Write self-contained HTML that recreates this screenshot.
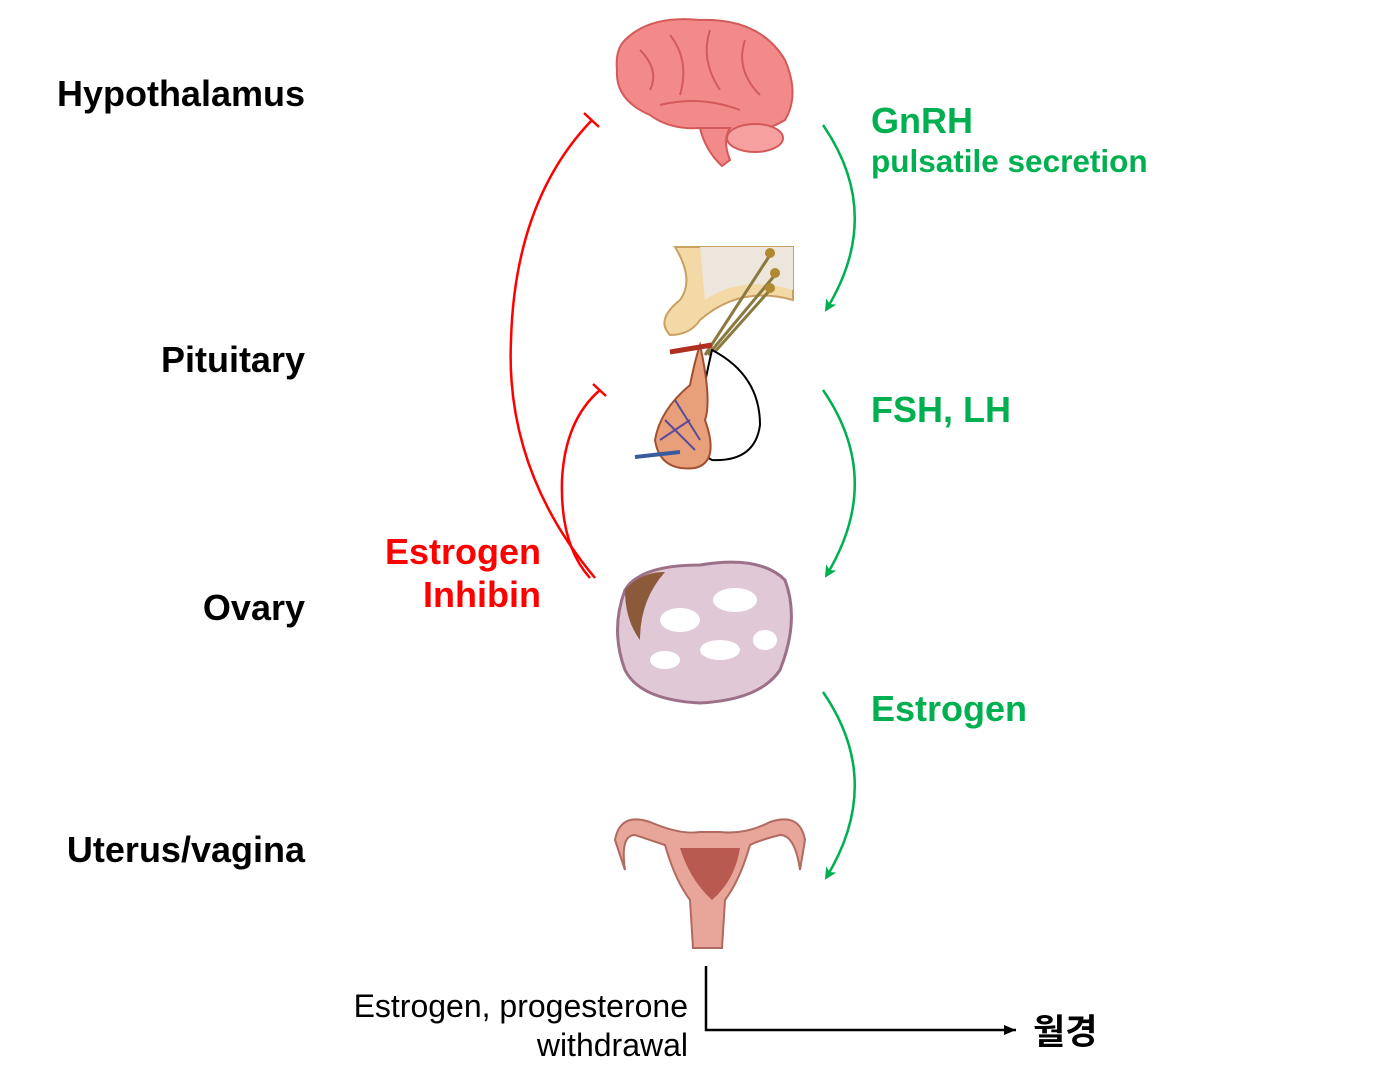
<!DOCTYPE html>
<html><head><meta charset="utf-8"><style>
html,body{margin:0;padding:0;background:#fff;}
body{width:1387px;height:1075px;position:relative;overflow:hidden;font-family:"Liberation Sans","Noto Sans CJK KR",sans-serif;}
.t{position:absolute;white-space:nowrap;}
.lab{font-weight:bold;font-size:36px;color:#000;text-align:right;right:1082px;}
.g{color:#00b050;font-weight:bold;}
</style></head><body>
<svg width="1387" height="1075" style="position:absolute;left:0;top:0">
<defs>
<marker id="ga" markerUnits="userSpaceOnUse" markerWidth="14" markerHeight="14" refX="10" refY="6" orient="auto"><path d="M0,0 L12,6 L0,12 L3,6 Z" fill="#00b050"/></marker>
<marker id="ka" markerUnits="userSpaceOnUse" markerWidth="14" markerHeight="12" refX="12" refY="5" orient="auto"><path d="M0,0 L12,5 L0,10 Z" fill="#000"/></marker>
</defs>
<!-- brain -->
<path d="M625,40 Q650,15 700,20 Q760,18 785,60 Q800,95 785,120 Q760,135 740,128 Q720,140 700,128 Q670,130 650,115 Q615,100 617,70 Q615,50 625,40Z" fill="#f38a8a" stroke="#d45a5a" stroke-width="2"/>
<path d="M700,128 Q705,150 722,166 L730,160 Q722,140 730,128Z" fill="#f38a8a" stroke="#d45a5a" stroke-width="2"/>
<ellipse cx="755" cy="138" rx="28" ry="14" fill="#f6a0a0" stroke="#d45a5a" stroke-width="2"/>
<path d="M640,50 Q660,70 650,90 M670,35 Q690,60 680,95 M710,30 Q700,60 720,90 M745,40 Q735,70 760,95 M660,105 Q700,95 740,110" stroke="#d45a5a" stroke-width="2" fill="none"/>
<!-- pituitary -->
<path d="M675,247 L793,247 L793,300 Q740,285 700,320 Q690,335 670,335 Q655,320 680,300 Q695,280 675,247Z" fill="#f3d9a6" stroke="#caa060" stroke-width="2"/>
<path d="M700,247 L793,247 L793,290 Q740,275 705,300Z" fill="#ece6dc"/>
<path d="M705,355 L770,255 M708,355 L775,275 M712,355 L770,290" stroke="#8a7a40" stroke-width="3" fill="none"/>
<circle cx="770" cy="253" r="5" fill="#b08a30"/><circle cx="775" cy="273" r="5" fill="#b08a30"/><circle cx="770" cy="288" r="5" fill="#b08a30"/>
<path d="M712,350 Q760,375 760,425 Q755,462 712,460 Q690,450 700,410 Q705,380 712,350Z" fill="#fff" stroke="#000" stroke-width="2"/>
<path d="M700,345 Q712,400 705,420 Q720,462 695,468 Q660,472 655,440 Q660,410 690,385 Q695,360 700,345Z" fill="#e8a07a" stroke="#a05030" stroke-width="2"/>
<path d="M665,420 L695,450 M675,400 L700,440 M660,440 L690,420" stroke="#5a4a9a" stroke-width="2"/>
<path d="M635,457 L680,452" stroke="#3a5aa0" stroke-width="4"/>
<path d="M670,352 L712,345" stroke="#b03020" stroke-width="5"/>
<!-- ovary -->
<path d="M625,590 Q640,565 700,565 Q760,555 785,580 Q800,620 780,670 Q760,700 700,703 Q640,700 625,670 Q610,630 625,590Z" fill="#e0c8d6" stroke="#9c7088" stroke-width="3"/>
<path d="M625,590 Q640,572 665,572 Q640,600 640,640 Q625,620 625,590Z" fill="#8a5a3a"/>
<ellipse cx="680" cy="620" rx="20" ry="12" fill="#fff"/><ellipse cx="735" cy="600" rx="22" ry="12" fill="#fff"/><ellipse cx="720" cy="650" rx="20" ry="10" fill="#fff"/><ellipse cx="665" cy="660" rx="15" ry="9" fill="#fff"/><ellipse cx="765" cy="640" rx="12" ry="10" fill="#fff"/>
<!-- uterus -->
<path d="M615,840 Q620,812 650,822 Q680,835 700,832 L720,832 Q745,835 770,822 Q800,812 805,840 L800,870 Q795,835 780,835 Q760,840 750,845 Q740,880 725,900 L722,948 L693,948 L690,900 Q675,880 665,845 Q650,840 635,835 Q620,835 625,870Z" fill="#e8a59a" stroke="#b06a60" stroke-width="2"/>
<path d="M680,848 L740,848 Q735,880 712,900 Q690,880 680,848Z" fill="#b85a50"/>
<!-- green arrows -->
<path d="M823,125 Q885,215 826,310" stroke="#00b050" stroke-width="2.5" fill="none" marker-end="url(#ga)"/>
<path d="M823,390 Q885,480 826,576" stroke="#00b050" stroke-width="2.5" fill="none" marker-end="url(#ga)"/>
<path d="M823,692 Q885,782 826,878" stroke="#00b050" stroke-width="2.5" fill="none" marker-end="url(#ga)"/>
<!-- red -->
<path d="M595,578 Q505,470 511,340 Q515,200 592,120" stroke="#f00" stroke-width="2.5" fill="none"/>
<path d="M584,113 L599,127" stroke="#f00" stroke-width="2.5"/>
<path d="M590,578 Q560,545 562,480 Q565,420 600,390" stroke="#f00" stroke-width="2.5" fill="none"/>
<path d="M593,384 L606,396" stroke="#f00" stroke-width="2.5"/>
<!-- bottom -->
<path d="M706,966 L706,1030 L1016,1030" stroke="#000" stroke-width="2.5" fill="none" marker-end="url(#ka)"/>
</svg>
<div class="t lab" style="top:73px">Hypothalamus</div>
<div class="t lab" style="top:339px">Pituitary</div>
<div class="t lab" style="top:587px">Ovary</div>
<div class="t lab" style="top:829px">Uterus/vagina</div>
<div class="t g" style="left:871px;top:100px;font-size:36px">GnRH</div>
<div class="t g" style="left:871px;top:143px;font-size:31.5px">pulsatile secretion</div>
<div class="t g" style="left:871px;top:389px;font-size:36px">FSH, LH</div>
<div class="t g" style="left:871px;top:688px;font-size:36px">Estrogen</div>
<div class="t" style="right:846px;top:530px;font-size:36px;font-weight:bold;color:#f00;text-align:right;line-height:43px">Estrogen<br>Inhibin</div>
<div class="t" style="right:699px;top:987px;font-size:32px;text-align:right;line-height:39px;color:#000">Estrogen, progesterone<br>withdrawal</div>
<div class="t" style="left:1033px;top:1004px;font-size:35px;font-weight:bold">월경</div>
</body></html>
